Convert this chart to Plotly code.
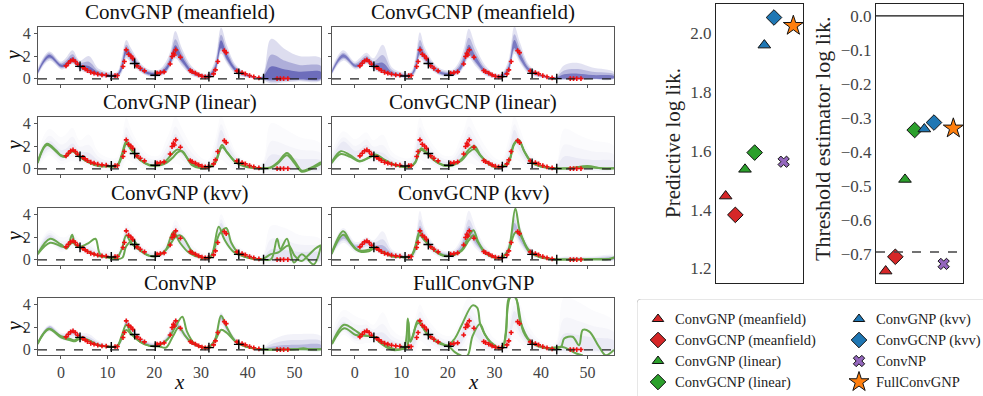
import plotly.graph_objects as go

W, H = 983, 396
FONT = "Liberation Serif"

# ---------------- data: left panels ----------------
panel_titles = ["ConvGNP (meanfield)", "ConvGCNP (meanfield)", "ConvGNP (linear)", "ConvGCNP (linear)",
                "ConvGNP (kvv)", "ConvGCNP (kvv)", "ConvNP", "FullConvGNP"]

# context points (red) and target points (black)
ctx_x = [1.1, 1.6, 2.1, 2.6, 3.1, 3.6, 4.7, 5.2, 5.7, 6.4, 7.1, 7.9, 8.8, 9.7, 11.6, 12.1,
         13.3, 13.6, 14.0, 14.5, 15.0, 15.4, 16.3, 17.0, 17.9, 20.6, 21.3, 22.1,
         23.4, 23.8, 24.1, 24.3, 24.6, 25.6, 27.7, 28.1, 28.8, 29.5, 30.2, 30.9, 31.6, 32.7, 33.1, 33.6,
         35.0, 35.4, 37.7, 38.8, 39.5, 40.4, 41.3, 42.4, 46.3, 47.0, 47.7, 48.6]
ctx_y = [1.14, 1.37, 1.58, 1.66, 1.52, 1.28, 1.0, 0.88, 0.73, 0.58, 0.5, 0.41, 0.35, 0.32, 0.29, 0.29,
         1.08, 1.52, 2.54, 2.16, 2.0, 1.8, 1.14, 0.93, 0.7, 0.5, 0.55, 0.61,
         1.31, 1.96, 2.25, 2.1, 2.54, 1.9, 0.73, 0.64, 0.5, 0.35, 0.23, 0.18, 0.2, 0.44, 0.79, 1.52,
         2.48, 2.3, 0.7, 0.55, 0.44, 0.29, 0.18, 0.09, 0.03, 0.03, 0.03, 0.03]
tgt_x = [4.1, 10.8, 15.8, 20.2, 31.7, 38.1, 43.4]
tgt_y = [1.1, 0.25, 1.35, 0.32, 0.2, 0.48, 0.02]

# sample fan: centre and per-panel envelopes read at these knots
knots = [-5, -2.5, 0, 1, 2.5, 4, 6, 8, 10, 12, 13, 14, 15, 17, 19, 21, 22.5, 23.5, 24.5, 26, 28, 30,
         31.5, 33, 34.3, 35.5, 37.5, 40, 43, 45, 48, 51, 55.7]
fan_mid = [0.5, 2.0, 1.15, 1.2, 1.65, 1.15, 0.75, 0.42, 0.3, 0.3, 0.9, 2.4, 1.9, 0.9, 0.45, 0.45, 0.8,
           1.5, 2.4, 1.6, 0.6, 0.25, 0.2, 0.8, 2.9, 1.9, 0.75, 0.3, 0.05, 0.05, 0.05, 0.05, 0.1]

hi_gnp_mf = [0.9, 2.4, 1.5, 1.8, 2.5, 1.6, 2.0, 0.9, 0.6, 0.6, 1.8, 3.4, 2.7, 1.4, 0.8, 0.8, 1.5, 2.5, 4.2,
             2.6, 1.1, 0.5, 0.5, 1.6, 4.5, 3.0, 1.2, 0.5, 0.25, 3.5, 2.6, 2.0, 1.8]
lo_gnp_mf = [0.3, 1.6, 0.85, 0.9, 1.3, 0.8, 0.45, 0.2, 0.1, 0.1, 0.5, 1.8, 1.4, 0.6, 0.2, 0.2, 0.5, 1.1, 1.8,
             1.1, 0.3, 0.05, 0.0, 0.4, 2.2, 1.4, 0.4, 0.1, -0.05, -0.4, -0.3, -0.2, -0.15]
hi_gcnp_mf = [0.9, 2.5, 1.5, 1.8, 2.3, 1.8, 3.0, 1.0, 0.6, 0.6, 1.8, 4.1, 2.8, 1.4, 0.8, 0.8, 1.6, 2.8, 4.4,
              2.8, 1.2, 0.5, 0.5, 1.6, 4.6, 3.2, 1.2, 0.5, 0.2, 1.2, 1.4, 1.0, 0.6]
lo_gcnp_mf = [0.3, 1.6, 0.85, 0.9, 1.3, 0.8, 0.45, 0.2, 0.1, 0.1, 0.5, 1.8, 1.4, 0.6, 0.2, 0.2, 0.5, 1.1, 1.8,
              1.1, 0.3, 0.05, 0.0, 0.4, 2.2, 1.4, 0.4, 0.1, -0.05, -0.1, -0.1, -0.05, 0.0]
hi_gnp_lin = [1.5, 3.5, 2.8, 3.0, 3.6, 2.5, 3.0, 1.5, 1.0, 1.0, 2.5, 4.5, 3.5, 2.0, 1.2, 1.2, 2.5, 3.5, 4.6,
              3.5, 2.0, 1.0, 0.8, 2.5, 4.6, 3.5, 1.5, 0.6, 0.5, 4.0, 3.5, 2.8, 2.2]
lo_gnp_lin = [0.0, 1.2, 0.4, 0.5, 0.7, 0.4, 0.1, -0.1, -0.2, -0.2, 0.0, 0.8, 0.6, 0.1, -0.2, -0.2, 0.0, 0.3,
              0.5, 0.2, -0.1, -0.3, -0.3, -0.1, 0.8, 0.4, -0.1, -0.2, -0.2, -0.45, -0.45, -0.4, -0.3]
hi_gcnp_lin = [1.5, 3.3, 2.6, 2.8, 3.2, 2.5, 3.0, 1.5, 1.0, 1.0, 2.5, 4.5, 3.5, 2.0, 1.2, 1.2, 2.5, 3.5, 4.6,
               3.5, 2.0, 1.0, 0.8, 2.5, 4.6, 3.5, 1.5, 0.6, 0.3, 3.5, 3.0, 2.5, 2.0]
lo_gcnp_lin = [0.0, 0.9, 0.4, 0.3, 0.5, 0.5, 0.2, -0.1, -0.2, -0.2, 0.0, 0.8, 0.6, 0.1, -0.2, -0.2, 0.0, 0.3,
               0.5, 0.3, -0.1, -0.3, -0.3, -0.1, 0.8, 0.6, -0.1, -0.2, -0.2, -0.3, -0.3, -0.3, -0.2]
hi_gnp_kvv = [1.0, 2.6, 2.0, 2.0, 2.4, 1.8, 1.6, 1.0, 0.8, 0.7, 1.6, 3.2, 2.7, 1.5, 0.9, 0.9, 1.5, 2.5, 3.5,
              2.6, 1.3, 0.7, 0.6, 1.6, 4.0, 3.0, 1.4, 0.7, 0.4, 3.0, 2.8, 2.2, 1.8]
lo_gnp_kvv = [0.2, 1.4, 0.7, 0.8, 1.0, 0.7, 0.3, 0.0, -0.1, -0.1, 0.3, 1.5, 1.1, 0.4, 0.0, 0.0, 0.3, 0.8, 1.5,
              0.8, 0.2, -0.1, -0.1, 0.2, 1.8, 1.1, 0.3, 0.0, -0.1, -0.4, -0.4, -0.3, -0.2]
hi_gcnp_kvv = [1.0, 2.8, 1.6, 1.6, 2.0, 1.7, 2.5, 0.9, 0.6, 0.6, 1.8, 4.3, 2.8, 1.4, 0.8, 0.8, 1.6, 2.8, 4.3,
               2.8, 1.2, 0.5, 0.5, 1.5, 4.0, 3.0, 1.2, 0.5, 0.2, 0.3, 0.3, 0.3, 0.4]
lo_gcnp_kvv = [0.3, 1.5, 0.7, 0.6, 0.9, 0.8, 0.4, 0.1, 0.05, 0.05, 0.4, 1.7, 1.3, 0.5, 0.15, 0.15, 0.4, 1.0,
               1.7, 1.0, 0.3, 0.05, 0.0, 0.3, 2.0, 1.3, 0.35, 0.1, 0.0, -0.05, -0.05, -0.05, -0.05]
hi_convnp = [0.8, 2.2, 1.5, 1.5, 1.9, 1.5, 1.4, 0.8, 0.5, 0.5, 1.3, 2.8, 2.2, 1.2, 0.7, 0.7, 1.2, 2.0, 2.8,
             2.0, 0.9, 0.4, 0.4, 1.2, 3.3, 2.3, 1.0, 0.4, 0.15, 0.8, 1.3, 1.4, 1.2]
lo_convnp = [0.4, 1.6, 0.9, 0.8, 1.0, 0.9, 0.6, 0.3, 0.2, 0.2, 0.6, 1.8, 1.5, 0.7, 0.3, 0.3, 0.6, 1.1, 1.8,
             1.2, 0.4, 0.15, 0.1, 0.5, 2.2, 1.5, 0.5, 0.2, 0.0, -0.05, -0.05, -0.05, -0.05]
hi_full = [1.5, 3.5, 3.0, 2.8, 2.6, 2.2, 3.3, 1.8, 1.2, 1.5, 2.8, 4.0, 3.2, 2.0, 1.3, 1.3, 2.5, 4.0, 4.6, 4.0,
           2.2, 1.0, 0.8, 3.0, 4.6, 4.0, 2.0, 0.8, 0.6, 4.6, 4.2, 3.5, 2.5]
lo_full = [0.1, 1.3, 0.6, 0.5, 0.6, 0.6, 0.1, -0.2, -0.3, -0.3, -0.2, 0.8, 0.5, 0.0, -0.3, -0.45, -0.45, 0.0,
           0.5, 0.3, -0.2, -0.3, -0.3, -0.2, 1.0, 0.6, -0.1, -0.2, -0.2, -0.45, -0.45, -0.4, -0.3]

fan_hi = [hi_gnp_mf, hi_gcnp_mf, hi_gnp_lin, hi_gcnp_lin, hi_gnp_kvv, hi_gcnp_kvv, hi_convnp, hi_full]
fan_lo = [lo_gnp_mf, lo_gcnp_mf, lo_gnp_lin, lo_gcnp_lin, lo_gnp_kvv, lo_gcnp_kvv, lo_convnp, lo_full]
fan_strength = [1.15, 1.0, 0.12, 0.12, 0.16, 0.45, 0.45, 0.12]

# green sample paths (x, y) per panel
g_lin_x = [-5, -3, -1, 0, 1, 2.5, 4, 6, 8, 10, 12, 13, 14, 15, 17, 19, 21, 22.5, 24, 25, 26, 28, 30, 31.5,
           33, 34.5, 35.5, 37.5, 40, 43, 45, 46.5, 48.4, 50, 51.6, 53, 55.7]
g_lin_a = [0.55, 2.2, 1.6, 1.2, 1.1, 1.6, 1.1, 0.6, 0.3, 0.25, 0.3, 1.2, 2.4, 1.8, 0.8, 0.35, 0.35, 0.7, 1.4,
           1.7, 1.5, 0.5, 0.15, 0.15, 0.6, 2.1, 1.5, 0.6, 0.2, 0.05, 0.15, 0.6, 1.4, 0.7, -0.15, 0.0, 0.6]
g_lin_b = [0.5, 2.1, 1.5, 1.15, 1.05, 1.55, 1.05, 0.55, 0.25, 0.2, 0.25, 1.0, 2.2, 1.7, 0.75, 0.3, 0.3, 0.5,
           1.0, 1.45, 1.55, 0.35, 0.05, 0.1, 0.5, 1.9, 1.5, 0.55, 0.15, 0.05, 0.1, 0.5, 1.2, 0.5, -0.25, -0.1, 0.45]

g_clin_x = [-5, -3, -1, 1, 2.5, 4.5, 6, 8, 10, 12, 13, 14.2, 15.5, 17, 19, 21, 23, 24.5, 25.7, 27, 29, 31,
            33, 34.2, 35.2, 36.5, 38, 40, 43, 46, 50, 53, 55.7]
g_clin_a = [0.55, 1.55, 1.2, 0.7, 0.9, 1.25, 0.9, 0.45, 0.2, 0.2, 0.6, 1.8, 1.4, 0.8, 0.35, 0.35, 0.9, 1.7,
            2.0, 1.2, 0.4, 0.15, 0.6, 2.2, 2.55, 1.5, 0.6, 0.2, 0.05, 0.05, 0.25, 0.05, 0.05]
g_clin_b = [0.5, 1.3, 1.05, 0.65, 0.85, 1.2, 0.85, 0.4, 0.2, 0.2, 0.55, 1.65, 1.35, 0.75, 0.3, 0.3, 0.75, 1.45,
            1.75, 1.15, 0.35, 0.1, 0.55, 2.1, 2.5, 1.45, 0.55, 0.2, 0.05, 0.05, 0.15, 0.05, 0.05]

g_kvv_a_x = [-5, -2.3, 0, 1.3, 2.4, 3.1, 4.1, 6, 7.4, 8.4, 10, 12, 13, 14, 15, 17, 19, 21, 22.5, 24.1, 25.5,
             27.5, 30, 32, 33.8, 35, 37, 40, 43, 45, 46.3, 47, 48.4, 49.9, 51.6, 54.1, 55.7]
g_kvv_a = [0.5, 1.85, 1.35, 1.0, 2.2, 1.3, 1.15, 1.5, 1.85, 0.5, 0.25, 0.2, 0.9, 2.15, 1.5, 0.8, 0.35, 0.4,
           0.9, 2.45, 1.5, 0.6, 0.2, 0.2, 2.9, 1.8, 0.7, 0.2, 0.05, 0.05, 1.85, 0.95, 1.85, -0.24, 0.5, -0.4, 1.25]
g_kvv_b_x = [-5, -2.3, 0, 1.3, 2.4, 4, 6, 8, 10, 12, 13.2, 14, 15.5, 17, 19, 21, 23, 24.5, 25.6, 26.5, 28, 30,
             32, 34, 35.4, 36.5, 38, 40, 43, 45, 46.5, 48.8, 50, 51.5, 53, 54.5, 55.7]
g_kvv_b = [0.5, 1.5, 1.2, 1.1, 1.5, 1.1, 0.7, 0.35, 0.2, 0.05, 0.2, 1.2, 1.7, 0.9, 0.35, 0.4, 1.1, 2.0, 2.15,
           1.8, 0.8, 0.2, 0.3, 2.3, 2.8, 1.5, 0.6, 0.2, 0.05, 0.5, 0.65, 1.25, 0.4, -0.1, 0.4, 1.0, 1.3]

g_ckvv_x = [-5, -2.5, -1, 0.3, 1.4, 3, 4.2, 6, 8, 10, 12, 13, 13.9, 15, 17, 19, 21, 23, 24.5, 25.5, 26.5, 28,
            30, 31.5, 33, 34.5, 35.5, 37.5, 40, 43, 50, 55, 55.7]
g_ckvv_a = [0.55, 2.5, 1.6, 0.95, 0.8, 0.9, 1.1, 0.7, 0.35, 0.25, 0.3, 1.2, 2.45, 1.8, 0.9, 0.4, 0.4, 0.9, 2.1,
            2.6, 1.6, 0.7, 0.2, 0.2, 0.9, 4.5, 2.5, 0.8, 0.25, 0.05, 0.05, 0.1, 0.25]
g_ckvv_b = [0.5, 2.2, 1.5, 0.9, 0.7, 0.75, 1.0, 0.65, 0.3, 0.25, 0.3, 1.0, 2.15, 1.7, 0.85, 0.35, 0.4, 0.8, 1.7,
            2.15, 1.5, 0.6, 0.2, 0.2, 0.8, 2.4, 2.2, 0.7, 0.2, 0.05, 0.05, 0.1, 0.2]

g_np_a_x = [-5, -2.6, 0, 2, 3, 4, 6, 8, 10, 12, 13, 14, 15, 17, 19, 21, 23, 24.5, 26, 27, 28.5, 30, 31.5, 33,
            34.3, 35.5, 37.5, 40, 43, 50, 52, 53, 55.7]
g_np_a = [0.55, 1.85, 1.2, 0.95, 0.85, 1.1, 0.85, 0.4, 0.3, 0.3, 1.2, 2.2, 1.5, 0.7, 0.35, 0.4, 1.0, 2.0, 2.9,
          1.6, 0.6, 0.25, 0.2, 0.9, 3.0, 2.0, 0.7, 0.25, 0.05, 0.05, 0.15, 0.05, 0.05]
g_np_b_x = [-5, -2.6, 0, 2, 3, 4, 6, 8, 10, 12, 13, 14, 15, 17, 19, 21, 22.5, 24, 25.3, 26.5, 28, 30, 31.5,
            33, 34.3, 35.5, 37.5, 40, 43, 50, 55.7]
g_np_b = [0.5, 1.8, 1.1, 0.85, 0.75, 0.95, 0.8, 0.4, 0.3, 0.3, 1.0, 1.75, 1.4, 0.7, 0.35, 0.3, 0.2, 1.2, 2.0,
          1.3, 0.6, 0.25, 0.2, 0.8, 1.75, 1.5, 0.7, 0.25, 0.05, 0.05, 0.05]

g_full_a_x = [-4.9, -2.3, -0.1, 1.6, 4.1, 5.9, 8, 10.5, 11.4, 11.9, 12.5, 13.6, 15.7, 18, 20, 21.5, 23, 25.3,
              26.3, 27, 28.5, 30, 31.6, 32.5, 33.2, 34.5, 35.5, 37.6, 40, 42, 44.3, 45, 46.8, 48.2, 49, 50.4,
              52.5, 53.9, 55.7]
g_full_a = [0.57, 2.2, 1.76, 1.3, 1.15, 0.7, 0.12, 0.18, 2.76, 0.7, 1.2, 2.6, 1.3, 0.7, 0.4, 1.0, 2.2, 3.9,
            3.7, 2.2, 1.0, 0.3, 0.1, 1.5, 4.6, 4.6, 2.6, 0.8, 0.3, 0.12, 0.26, 1.0, 1.15, 0.4, 1.76, 1.6,
            0.26, -0.47, 0.0]
g_full_b_x = [-4.9, -2.3, 0.2, 2, 4.1, 5.2, 8, 10, 11.2, 11.5, 12, 13.6, 15.7, 18, 20.3, 21.5, 22.8, 24.2,
              25.3, 26.9, 28, 29.2, 31.6, 33.4, 34.5, 36.2, 38, 41, 44.7, 46.1, 47.5, 49]
g_full_b = [0.5, 1.9, 1.3, 1.25, 1.15, 0.7, 0.0, 0.05, 0.2, 2.5, 0.8, 2.35, 1.35, 0.6, 0.26, -0.2, -0.5,
            -0.5, 1.2, 2.27, 1.3, 0.7, 0.1, 4.6, 4.6, 1.6, 0.6, 0.15, 0.26, 0.0, -0.3, -0.5]

green_paths = [
    [],
    [],
    [(g_lin_x, g_lin_a), (g_lin_x, g_lin_b)],
    [(g_clin_x, g_clin_a), (g_clin_x, g_clin_b)],
    [(g_kvv_a_x, g_kvv_a), (g_kvv_b_x, g_kvv_b)],
    [(g_ckvv_x, g_ckvv_a), (g_ckvv_x, g_ckvv_b)],
    [(g_np_a_x, g_np_a), (g_np_b_x, g_np_b)],
    [(g_full_a_x, g_full_a), (g_full_b_x, g_full_b)],
]

# ---------------- data: right panels ----------------
models = ["ConvGNP (meanfield)", "ConvGCNP (meanfield)", "ConvGNP (linear)", "ConvGCNP (linear)",
          "ConvGNP (kvv)", "ConvGCNP (kvv)", "ConvNP", "FullConvGNP"]
pred_loglik = [1.446, 1.382, 1.537, 1.594, 1.96, 2.054, 1.563, 2.026]
thresh_loglik = [-0.749, -0.707, -0.480, -0.335, -0.332, -0.313, -0.728, -0.330]
model_colors = ["#d62728", "#d62728", "#2ca02c", "#2ca02c", "#1f77b4", "#1f77b4", "#9467bd", "#ff7f0e"]
model_symbols = ["triangle-up", "diamond", "triangle-up", "diamond", "triangle-up", "diamond", "x", "star"]
model_sizes = [11, 12, 11, 12, 11, 12, 10, 15]
pred_ticks = [1.2, 1.4, 1.6, 1.8, 2.0]
thresh_ticks = [0.0, -0.1, -0.2, -0.3, -0.4, -0.5, -0.6, -0.7]
x_ticks = [0, 10, 20, 30, 40, 50]
y_ticks = [0, 2, 4]

# ---------------- layout helpers ----------------
def dx(a, b):
    return [a / W, b / W]

def dy(top, bot):
    return [1 - bot / H, 1 - top / H]

col_px = [(38, 321), (332, 614)]
row_px = [(27, 84), (117, 174), (208, 265), (298, 355)]

fig = go.Figure()
layout = dict(width=W, height=H, margin=dict(l=0, r=0, t=0, b=0, autoexpand=False), plot_bgcolor="white",
              paper_bgcolor="white", font=dict(family=FONT, size=14, color="#222"), showlegend=False)
annotations = []
shapes = []
FAN_RGB = "60,60,165"

for i, title in enumerate(panel_titles):
    r, c = divmod(i, 2)
    n = i + 1
    xa = "x" if n == 1 else f"x{n}"
    ya = "y" if n == 1 else f"y{n}"
    xkey = "xaxis" if n == 1 else f"xaxis{n}"
    ykey = "yaxis" if n == 1 else f"yaxis{n}"
    bottom = r == 3
    layout[xkey] = dict(domain=dx(*col_px[c]), anchor=ya, range=[-4.9, 55.7], tickvals=x_ticks,
                        showticklabels=bottom, ticks="outside", ticklen=3, tickcolor="#555",
                        showline=True, mirror=True, linecolor="#555", linewidth=1, showgrid=False,
                        zeroline=False, tickfont=dict(size=16, color="#444", family=FONT))
    layout[ykey] = dict(domain=dy(*row_px[r]), anchor=xa, range=[-0.45, 4.55], tickvals=y_ticks,
                        showticklabels=(c == 0), ticks="outside", ticklen=3, tickcolor="#555",
                        showline=True, mirror=True, linecolor="#555", linewidth=1, showgrid=False,
                        zeroline=False, tickfont=dict(size=16, color="#444", family=FONT))
    # fan of samples: nested envelopes
    hi, lo = fan_hi[i], fan_lo[i]
    for t, w in [(1.0, 0.15), (0.6, 0.25), (0.3, 0.5)]:
        up = [m + (h - m) * t for m, h in zip(fan_mid, hi)]
        dn = [m + (l - m) * t for m, l in zip(fan_mid, lo)]
        fig.add_trace(go.Scatter(x=knots + knots[::-1], y=up + dn[::-1], fill="toself",
                                 fillcolor=f"rgba({FAN_RGB},{min(fan_strength[i] * w, 1):.3f})",
                                 line=dict(width=0), mode="lines", line_shape="spline",
                                 hoverinfo="skip", showlegend=False, xaxis=xa, yaxis=ya))
    # dashed zero line
    shapes.append(dict(type="line", xref=f"{xa} domain", yref=ya, x0=0, x1=1, y0=0, y1=0,
                       line=dict(color="#222", width=1.3, dash="dash")))
    for gx, gy in green_paths[i]:
        fig.add_trace(go.Scatter(x=gx, y=gy, mode="lines", line=dict(color="#6aa84f", width=2),
                                 line_shape="spline", hoverinfo="skip", showlegend=False,
                                 xaxis=xa, yaxis=ya))
    fig.add_trace(go.Scatter(x=ctx_x, y=ctx_y, mode="markers",
                             marker=dict(symbol="cross", size=4, color="#ee1111", line=dict(width=0)),
                             showlegend=False, xaxis=xa, yaxis=ya))
    fig.add_trace(go.Scatter(x=tgt_x, y=tgt_y, mode="markers",
                             marker=dict(symbol="cross-thin", size=7, line=dict(width=1.4, color="black")),
                             showlegend=False, xaxis=xa, yaxis=ya))
    xc = (col_px[c][0] + col_px[c][1]) / 2 / W
    annotations.append(dict(text=title, x=xc, y=1 - (row_px[r][0] - 1) / H, xref="paper", yref="paper",
                            xanchor="center", yanchor="bottom", showarrow=False,
                            font=dict(size=21, family=FONT, color="#111")))
    if c == 0:
        yc = 1 - (row_px[r][0] + row_px[r][1]) / 2 / H
        annotations.append(dict(text="<i>y</i>", x=13 / W, y=yc, xref="paper", yref="paper",
                                textangle=-90, showarrow=False, xanchor="center", yanchor="middle",
                                font=dict(size=21, family=FONT, color="#111")))
    if bottom:
        annotations.append(dict(text="<i>x</i>", x=xc, y=0, xref="paper", yref="paper",
                                showarrow=False, xanchor="center", yanchor="bottom",
                                font=dict(size=21, family=FONT, color="#111")))

# ---------------- right panels ----------------
right_dom_y = dy(4, 283)
layout["xaxis9"] = dict(domain=dx(716, 803), anchor="y9", range=[-1, 8], showticklabels=False, ticks="",
                        showline=True, mirror=True, linecolor="#222", linewidth=1.2, showgrid=False,
                        zeroline=False)
layout["yaxis9"] = dict(domain=right_dom_y, anchor="x9", range=[1.15, 2.1], tickvals=pred_ticks,
                        tickformat=".1f", ticks="", showline=True, mirror=True, linecolor="#222",
                        linewidth=1.2, showgrid=False, zeroline=False,
                        tickfont=dict(size=17, color="#444", family=FONT))
layout["xaxis10"] = dict(domain=dx(876, 963), anchor="y10", range=[-1, 8], showticklabels=False, ticks="",
                         showline=True, mirror=True, linecolor="#222", linewidth=1.2, showgrid=False,
                         zeroline=False)
layout["yaxis10"] = dict(domain=right_dom_y, anchor="x10", range=[-0.784, 0.035], tickvals=thresh_ticks,
                         tickformat=".1f", ticks="", showline=True, mirror=True, linecolor="#222",
                         linewidth=1.2, showgrid=False, zeroline=False,
                         tickfont=dict(size=17, color="#444", family=FONT))
shapes.append(dict(type="line", xref="x10 domain", yref="y10", x0=0, x1=1, y0=0, y1=0,
                   line=dict(color="#111", width=1.2)))
shapes.append(dict(type="line", xref="x10 domain", yref="y10", x0=0, x1=1, y0=-0.693, y1=-0.693,
                   line=dict(color="#444", width=1.3, dash="dash")))

for k, name in enumerate(models):
    mk = dict(symbol=model_symbols[k], size=model_sizes[k], color=model_colors[k],
              line=dict(color="#111", width=1))
    fig.add_trace(go.Scatter(x=[k], y=[pred_loglik[k]], mode="markers", marker=mk, name=name,
                             showlegend=False, xaxis="x9", yaxis="y9"))
    fig.add_trace(go.Scatter(x=[k], y=[thresh_loglik[k]], mode="markers", marker=mk, name=name,
                             showlegend=False, xaxis="x10", yaxis="y10"))

annotations.append(dict(text="Predictive log lik.", x=673 / W, y=1 - 143 / H, xref="paper", yref="paper",
                        textangle=-90, showarrow=False, xanchor="center", yanchor="middle",
                        font=dict(size=21, family=FONT, color="#222")))
annotations.append(dict(text="Threshold estimator log lik.", x=822 / W, y=1 - 139 / H, xref="paper",
                        yref="paper", textangle=-90, showarrow=False, xanchor="center", yanchor="middle",
                        font=dict(size=22, family=FONT, color="#222")))

# ---------------- legend (two columns, drawn on a pixel-unit helper axis) ----------------
LEG_L, LEG_T = 637, 299
layout["xaxis11"] = dict(domain=dx(LEG_L, W), anchor="y11", range=[LEG_L, W], visible=False, fixedrange=True)
layout["yaxis11"] = dict(domain=dy(LEG_T, H), anchor="x11", range=[H, LEG_T], visible=False, fixedrange=True)
legend_col_x = [658, 859]
legend_row_y = [319, 340, 361, 382]
legend_sizes = [10, 12, 10, 12, 10, 12, 10, 15]
for k, name in enumerate(models):
    col, row = divmod(k, 4)
    fig.add_trace(go.Scatter(x=[legend_col_x[col]], y=[legend_row_y[row]], mode="markers",
                             marker=dict(symbol=model_symbols[k], size=legend_sizes[k], color=model_colors[k],
                                         line=dict(color="#111", width=1)),
                             showlegend=False, hoverinfo="skip", xaxis="x11", yaxis="y11", cliponaxis=False))
    annotations.append(dict(text=name, x=legend_col_x[col] + 15, y=legend_row_y[row], xref="x11", yref="y11",
                            xanchor="left", yanchor="middle", showarrow=False,
                            font=dict(size=14.5, family=FONT, color="#222")))
# legend frame with rounded corners
R = 4
x0, y0, x1, y1 = LEG_L, LEG_T, W + 10, H + 10
path = (f"M {x0 + R},{y0} L {x1},{y0} L {x1},{y1} L {x0},{y1} L {x0},{y0 + R} "
        f"Q {x0},{y0} {x0 + R},{y0} Z")
shapes.append(dict(type="path", xref="x11", yref="y11", path=path,
                   line=dict(color="#d0d0d0", width=1), fillcolor="rgba(0,0,0,0)"))

layout["annotations"] = annotations
layout["shapes"] = shapes
fig.update_layout(**layout)

fig.write_html("out.html")
